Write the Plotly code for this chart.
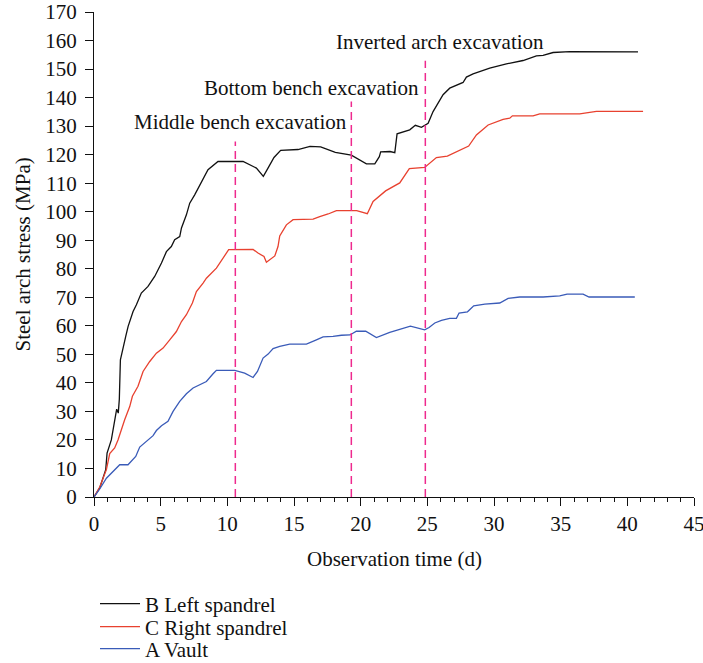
import plotly.graph_objects as go

# ---- data ----
b_time = [0, 0.43, 0.88, 0.98, 1.3, 1.55, 1.7, 1.82, 1.9, 1.98, 2.18, 2.38, 2.56, 2.65, 2.93, 3.18, 3.55,
          4.05, 4.55, 5.06, 5.43, 5.8, 6.05, 6.43, 6.56, 6.93, 7.18, 7.55, 7.93, 8.55, 9.3, 11.18,
          12.18, 12.7, 13.05, 13.5, 14.0, 15.3, 16.2, 17.0, 18.1, 19.0, 19.3, 20.43, 21.06, 21.4,
          21.5, 22.2, 22.56, 22.73, 23.68, 24.1, 24.56, 25.06, 25.43, 26.18, 26.68, 27.68, 27.93,
          28.43, 29.68, 30.93, 32.18, 33.18, 33.68, 34.43, 35.68, 40.8]
b_stress = [0, 3.2, 9.6, 15.4, 20, 26, 30.8, 29.4, 34.3, 48.1, 52.8, 56.3, 59.8, 61, 65, 67.4, 71.5,
            73.8, 77.3, 82, 86, 87.8, 90.2, 91.3, 94.3, 98.9, 103, 105.9, 109.4, 114.7, 117.6, 117.6,
            115.3, 112.4, 115.3, 119, 121.5, 121.8, 122.9, 122.7, 120.8, 120.2, 119.8, 116.8, 116.8, 119.3,
            121, 121.1, 120.7, 127.3, 128.7, 130.3, 129.6, 131, 135.1, 141, 143.3, 145.3, 147.2,
            148.3, 150.3, 151.8, 153, 154.6, 154.8, 155.8, 156.1, 156]

c_time = [0, 0.43, 0.93, 1.18, 1.55, 1.8, 2.3, 2.68, 2.88, 3.3, 3.68, 4.18, 4.68, 5.18, 5.68, 6.18,
          6.56, 6.93, 7.38, 7.68, 8.18, 8.43, 9.18, 9.68, 10.1, 11.93, 12.3, 12.75, 12.93, 13.56,
          13.8, 13.93, 14.43, 14.93, 16.43, 16.93, 17.56, 18.18, 19.7, 20.5, 20.93, 21.87, 22.93,
          23.65, 24.8, 25.68, 26.5, 28.1, 28.68, 29.56, 30.68, 31.18, 31.38, 32.93, 33.43, 36.43,
          37.68, 41.18]
c_stress = [0, 3.5, 9.6, 15.2, 17.2, 20, 27.1, 31.7, 35.3, 38.8, 44, 47.5, 50.4, 52.2, 55.1, 58,
            61.5, 63.9, 68, 72, 75, 76.7, 80.2, 84, 86.7, 86.8, 85.5, 84.3, 82.3, 84.5,
            87.8, 91.5, 95.4, 97.2, 97.4, 98.3, 99.2, 100.4, 100.4, 99.3, 103.6, 107.3, 110.1,
            115.1, 115.5, 119, 119.5, 123, 126.9, 130.4, 132.4, 132.8, 133.6, 133.6, 134.3, 134.3,
            135.2, 135.2]

a_time = [0, 0.43, 0.93, 1.43, 1.93, 2.55, 3.13, 3.43, 3.93, 4.43, 4.68, 5.06, 5.55, 5.93, 6.43,
          6.93, 7.43, 7.93, 8.43, 8.93, 9.18, 10.56, 11.3, 11.93, 12.26, 12.68, 13.06, 13.43, 13.93,
          14.68, 15.93, 16.68, 17.18, 17.93, 18.56, 19.2, 19.68, 20.38, 21.18, 22.18, 23.06, 23.73,
          24.8, 25.13, 25.56, 26.06, 26.68, 27.18, 27.38, 28.01, 28.48, 29.31, 30.43, 31.06, 31.93,
          33.68, 34.93, 35.48, 36.68, 37.13, 40.56]
a_stress = [0, 2.8, 6.6, 9, 11.3, 11.3, 14.2, 17.5, 19.5, 21.5, 23.3, 25, 26.5, 30, 33.5,
            36.2, 38.2, 39.3, 40.5, 43.2, 44.4, 44.4, 43.4, 41.9, 44, 48.7, 50.1, 52, 52.8,
            53.6, 53.6, 55.1, 56.1, 56.3, 56.7, 56.8, 58.1, 58.1, 55.9, 57.7, 58.9, 59.9,
            58.6, 59.4, 61, 61.9, 62.6, 62.6, 64.5, 64.9, 67, 67.6, 68, 69.6, 70.1,
            70.1, 70.5, 71.1, 71.1, 70.1, 70.1]

series_names = ["B Left spandrel", "C Right spandrel", "A Vault"]
series_colors = ["#111111", "#e8412f", "#3a5bb8"]

event_labels = ["Middle bench excavation", "Bottom bench excavation", "Inverted arch excavation"]
event_times = [10.6, 19.3, 24.85]
event_tops = [124.6, 138.6, 152.9]
label_x = [10.95, 16.3, 25.95]
label_y = [131.5, 143.4, 159.5]

x_title = "Observation time (d)"
y_title = "Steel arch stress (MPa)"

FONT = "Liberation Serif"
FS = 21
W, H = 703, 663
ML, MR, MT, MB = 94, 9, 12, 166
PW, PH = W - ML - MR, H - MT - MB

legend_ids = ["legend", "legend2", "legend3"]
legend_rows_px = [604, 627, 649]   # vertical centres of the legend rows

fig = go.Figure()
for name, color, xs, ys, lg in zip(series_names, series_colors,
                                   [b_time, c_time, a_time], [b_stress, c_stress, a_stress],
                                   legend_ids):
    fig.add_trace(go.Scatter(x=xs, y=ys, mode="lines", name=name, legend=lg,
                             line=dict(color=color, width=1.3)))

for t, top in zip(event_times, event_tops):
    fig.add_trace(go.Scatter(x=[t, t], y=[0, top], mode="lines", showlegend=False,
                             hoverinfo="skip",
                             line=dict(color="#ee2a8e", width=1.5, dash="8px,5px")))

for txt, x, y in zip(event_labels, label_x, label_y):
    fig.add_annotation(x=x, y=y, text=txt, showarrow=False, xanchor="center", yanchor="middle",
                       font=dict(family=FONT, size=FS, color="#111111"))

# axis titles as paper-referenced annotations
fig.add_annotation(xref="paper", yref="paper", x=0.5, y=-(559 - (MT + PH)) / PH,
                   text=x_title, showarrow=False, xanchor="center", yanchor="middle",
                   font=dict(family=FONT, size=FS, color="#111111"))
fig.add_annotation(xref="paper", yref="paper", x=(22 - ML) / PW, y=0.5,
                   text=y_title, showarrow=False, xanchor="center", yanchor="middle",
                   textangle=-90, font=dict(family=FONT, size=FS, color="#111111"))

legend_style = dict(xref="container", yref="container", xanchor="left", yanchor="middle",
                    font=dict(family=FONT, size=FS, color="#111111"),
                    bgcolor="rgba(0,0,0,0)", itemwidth=40, borderwidth=0)

layout_legends = {}
for lg, ypx in zip(legend_ids, legend_rows_px):
    layout_legends[lg] = dict(legend_style, x=95 / W, y=1 - ypx / H)

fig.update_layout(
    width=W, height=H,
    margin=dict(l=ML, r=MR, t=MT, b=MB, autoexpand=False),
    paper_bgcolor="white", plot_bgcolor="white",
    font=dict(family=FONT, size=FS, color="#111111"),
    showlegend=True,
    **layout_legends,
)
fig.update_xaxes(
    range=[0, 45], dtick=5, tick0=0, showgrid=False, zeroline=False, automargin=False,
    showline=True, linecolor="#111111", linewidth=1.3,
    ticks="outside", ticklen=8, tickwidth=1.3, tickcolor="#111111",
    minor=dict(dtick=1, ticks="outside", ticklen=4, tickwidth=1.1, tickcolor="#111111", showgrid=False),
    tickfont=dict(family=FONT, size=FS), ticklabeloverflow="allow",
)
fig.update_yaxes(
    range=[0, 170], dtick=10, tick0=0, showgrid=False, zeroline=False, automargin=False,
    showline=True, linecolor="#111111", linewidth=1.3,
    ticks="outside", ticklen=8, tickwidth=1.3, tickcolor="#111111",
    tickfont=dict(family=FONT, size=FS), ticklabelstandoff=4,
)

fig.write_html("out.html")
